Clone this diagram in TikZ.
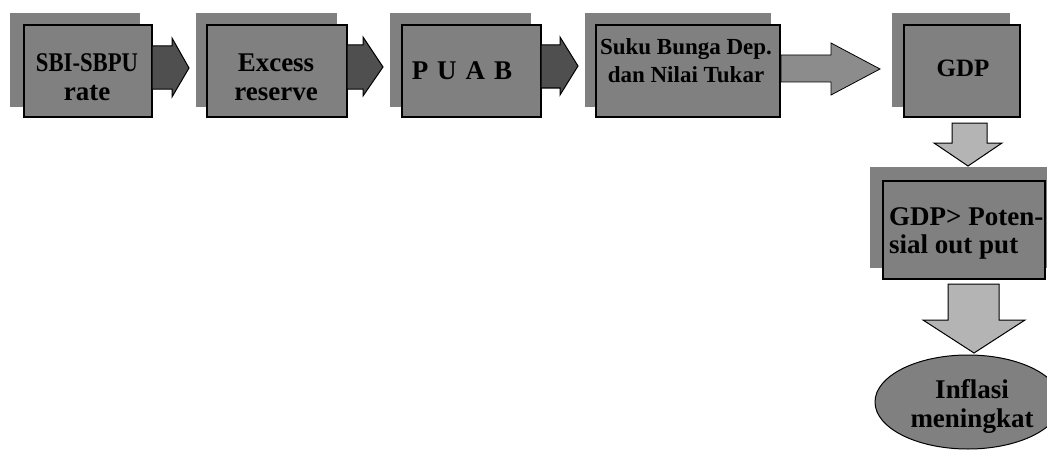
\documentclass[tikz,border=0pt]{standalone}
\usepackage{fontspec}
\setmainfont{Liberation Serif}
\begin{document}
\begin{tikzpicture}[x=1pt,y=-1pt,
  shadowbox/.style={fill=boxgray,draw=none},
  frontbox/.style={fill=boxgray,draw=black,line width=1.4pt},
  darrow/.style={fill=darkgray2,draw=black,line width=1pt,line join=miter},
  marrow/.style={fill=midgray,draw=black,line width=0.8pt,line join=miter},
  larrow/.style={fill=lightgray2,draw=black,line width=1pt,line join=miter},
  lbl/.style={font=\bfseries\fontsize{27}{28}\selectfont,inner sep=0pt,anchor=base},
  slbl/.style={font=\bfseries\fontsize{23}{28}\selectfont,inner sep=0pt,anchor=base}]
\definecolor{boxgray}{HTML}{808080}
\definecolor{darkgray2}{HTML}{4F4F4F}
\definecolor{midgray}{HTML}{8C8C8C}
\definecolor{lightgray2}{HTML}{B4B4B4}
\useasboundingbox (0,0) rectangle (1047,452);
\fill[white] (0,0) rectangle (1047,452);
\clip (0,0) rectangle (1047,452);
% box 1
\path[shadowbox] (10,13) rectangle (140,107);
\draw[frontbox] (24,25) rectangle (152,117);
\coordinate (f1) at (152,68);
% box 2
\path[shadowbox] (196,13) rectangle (337,107);
\draw[frontbox] (207,25) rectangle (347,117);
\coordinate (f2) at (347,67);
% box 3
\path[shadowbox] (390,13) rectangle (531,107);
\draw[frontbox] (402,25) rectangle (541,117);
\coordinate (f3) at (541,66);
% box 4
\path[shadowbox] (585,13) rectangle (771,107);
\draw[frontbox] (596,25) rectangle (780,117);
\coordinate (f4) at (781,69);
% box 5
\path[shadowbox] (892,13) rectangle (1010,107);
\draw[frontbox] (904,25) rectangle (1020,117);
% box 6
\path[shadowbox] (870,167) rectangle (1060,268);
\draw[frontbox] (883,181) rectangle (1045,279);
% ellipse
\draw[frontbox,line width=1pt] (968,402) ellipse [x radius=93,y radius=47];

% arrows
\draw[darrow] (152,46) -- (172,46) -- (172,38) -- (189,68) -- (172,97) -- (172,89) -- (152,89) -- cycle;
\draw[darrow] (347,45) -- (363,45) -- (363,37) -- (383,67) -- (363,96) -- (363,89) -- (347,89) -- cycle;
\draw[darrow] (541,45) -- (560,45) -- (560,37) -- (578,66) -- (560,95) -- (560,88) -- (541,88) -- cycle;
\draw[marrow] (781,55) -- (831,55) -- (831,43) -- (880,69) -- (831,95) -- (831,82) -- (781,82) -- cycle;
\draw[larrow] (952,123) -- (987,123) -- (987,143) -- (1002,143) -- (968,166) -- (934,143) -- (952,143) -- cycle;
\draw[larrow] (948,284) -- (999,284) -- (999,320) -- (1025,320) -- (974,353) -- (923,320) -- (948,320) -- cycle;

% labels
\node[lbl] (t1a) at (87,72) {\scalebox{0.84}[1]{SBI-SBPU}};
\node[lbl] (t1b) at (87,100) {rate};
\node[lbl] (t2a) at (276,72) {Excess};
\node[lbl] (t2b) at (276,100) {reserve};
\node[lbl] (t3) at (462,80) {P\,\,U\,\,A\,\,B};
\node[slbl] (t4a) at (686,55) {Suku Bunga Dep.};
\node[slbl] (t4b) at (686,83) {dan Nilai Tukar};
\node[lbl,font=\bfseries\fontsize{25}{28}\selectfont] (t5) at (963,77) {GDP};
\node[lbl,anchor=base west] (t6a) at (889,225) {GDP> Poten-};
\node[lbl,anchor=base west] (t6b) at (889,253) {sial out put};
\node[lbl] (t7a) at (972,398) {Inflasi};
\node[lbl] (t7b) at (972,427) {meningkat};
\end{tikzpicture}
\end{document}
